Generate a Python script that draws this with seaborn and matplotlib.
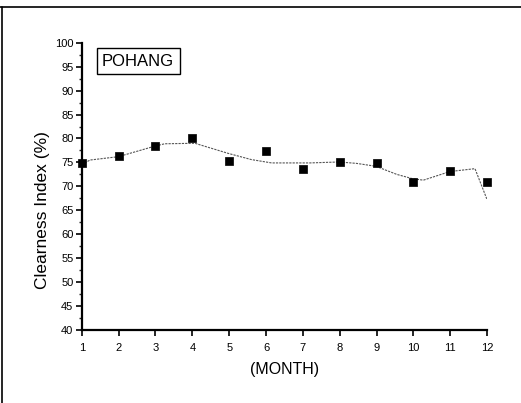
import matplotlib
matplotlib.use("Agg")
import matplotlib.pyplot as plt
import seaborn as sns
import pandas as pd
from matplotlib.lines import Line2D
from matplotlib.ticker import MultipleLocator

months = [1, 2, 3, 4, 5, 6, 7, 8, 9, 10, 11, 12]
clearness = [74.9, 76.4, 78.4, 80.1, 75.2, 77.3, 73.6, 75.0, 74.9, 71.0, 73.2, 70.9]

fit_x = [1.0, 1.22, 1.99, 2.98, 3.25, 4.07, 4.97, 5.6, 6.15, 6.74, 7.19, 7.99,
         8.46, 8.98, 9.55, 9.98, 10.27, 10.99, 11.67, 11.99]
fit_y = [74.5, 75.5, 76.2, 78.4, 78.9, 79.0, 76.9, 75.6, 74.9, 74.9, 74.9, 75.1,
         74.8, 74.2, 72.5, 71.6, 71.3, 73.1, 73.7, 67.4]

x_ticks = list(range(1, 13))
y_ticks = list(range(40, 101, 5))

sns.set_theme(style="ticks")
plt.rcParams['font.family'] = ['Liberation Sans', 'DejaVu Sans']
plt.rcParams['text.color'] = 'black'
plt.rcParams['axes.labelcolor'] = 'black'

fig = plt.figure(figsize=(5.21, 4.03), dpi=100)
ax = fig.add_axes([0.157, 0.181, 0.778, 0.713])

pts = pd.DataFrame({"month": months, "ci": clearness})
fit = pd.DataFrame({"month": fit_x, "ci": fit_y})

sns.lineplot(data=fit, x="month", y="ci", ax=ax, color="#555555",
             linewidth=0.8, linestyle=(0, (2, 1)), sort=False)
sns.scatterplot(data=pts, x="month", y="ci", ax=ax, marker="s", s=36,
                color="black", edgecolor="black", linewidth=0.5, zorder=5,
                clip_on=False)

ax.set_xlim(1, 12)
ax.set_ylim(40, 100)
ax.set_xticks(x_ticks)
ax.set_yticks(y_ticks)
ax.yaxis.set_minor_locator(MultipleLocator(2.5))
ax.tick_params(axis="both", which="major", direction="out", length=4, width=1.2,
               labelsize=8, colors="black")
ax.tick_params(axis="x", which="major", pad=5)
ax.tick_params(axis="y", which="major", pad=2)
ax.tick_params(axis="y", which="minor", direction="out", length=2, width=1.0)
for s in ["top", "right"]:
    ax.spines[s].set_visible(False)
for s in ["left", "bottom"]:
    ax.spines[s].set_linewidth(1.6)
    ax.spines[s].set_color("black")

ax.set_xlabel("(MONTH)", fontsize=11.5, labelpad=7)
ax.set_ylabel("Clearness Index (%)", fontsize=12.5)
ax.yaxis.set_label_coords(-0.079, 0.416)

ax.text(0.05, 0.935, "POHANG", transform=ax.transAxes, fontsize=12,
        ha="left", va="center",
        bbox=dict(boxstyle="square,pad=0.33", facecolor="white",
                  edgecolor="black", linewidth=1.0))

fig.add_artist(Line2D([0.0, 1.0], [0.983, 0.983], transform=fig.transFigure,
                      color="black", linewidth=1.2))
fig.add_artist(Line2D([0.004, 0.004], [0.0, 0.983], transform=fig.transFigure,
                      color="black", linewidth=1.2))

fig.savefig("out.png", dpi=100, facecolor="white")
